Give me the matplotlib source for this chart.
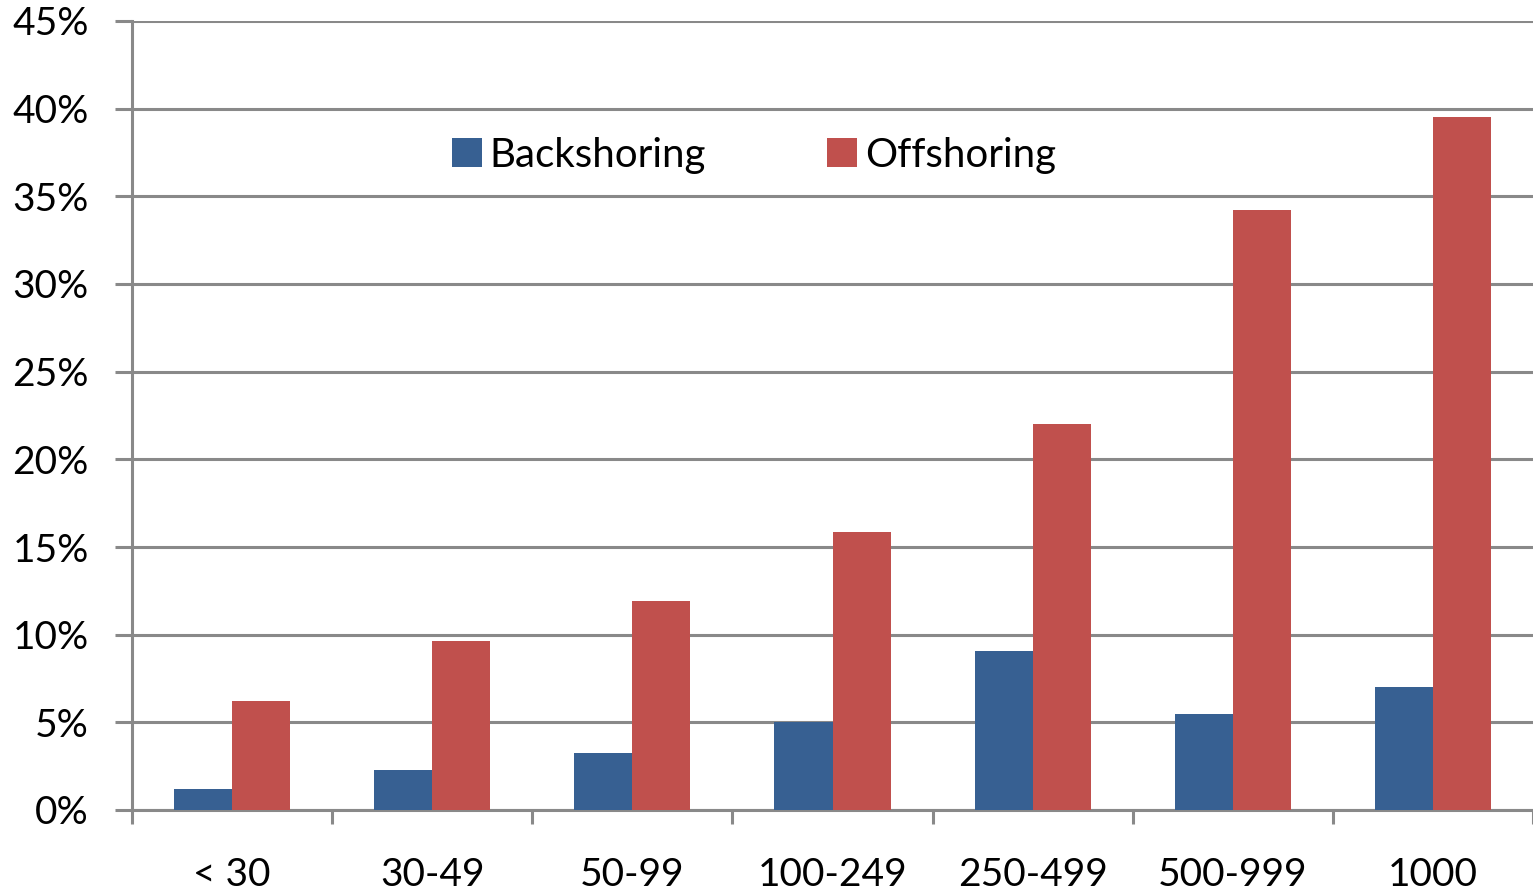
import matplotlib
matplotlib.use("Agg")
import matplotlib.pyplot as plt
import numpy as np
from matplotlib.ticker import FuncFormatter

categories = ["< 30", "30-49", "50-99", "100-249", "250-499", "500-999", "1000"]
backshoring = [1.2, 2.3, 3.25, 5.0, 9.05, 5.5, 7.0]
offshoring = [6.2, 9.65, 11.9, 15.85, 22.0, 34.2, 39.5]

blue = "#376092"
red = "#C0504D"
grid_gray = "#898989"

plt.rcParams["font.family"] = ["Lato", "DejaVu Sans"]

fig = plt.figure(figsize=(15.33, 8.91), dpi=100)
ax = fig.add_axes([132 / 1533, 81 / 891, 1 - 132 / 1533, (810 - 21) / 891])

x = np.arange(len(categories))
w = 0.29
ax.bar(x - w / 2, backshoring, width=w, color=blue, label="Backshoring", zorder=3)
ax.bar(x + w / 2, offshoring, width=w, color=red, label="Offshoring", zorder=3)

ax.set_xlim(-0.5, len(categories) - 0.5)
ax.set_ylim(0, 45)
ax.set_yticks(np.arange(0, 46, 5))
ax.yaxis.set_major_formatter(FuncFormatter(lambda v, p: f"{v:.0f}%"))
ax.grid(axis="y", color=grid_gray, linewidth=2.2, zorder=0)
ax.set_axisbelow(True)

for s in ["top", "right"]:
    ax.spines[s].set_visible(False)
for s in ["left", "bottom"]:
    ax.spines[s].set_color(grid_gray)
    ax.spines[s].set_linewidth(2.2)

# category boundaries as x tick marks, labels centred under groups
ax.set_xticks(np.arange(-0.5, len(categories) + 0.5, 1))
ax.set_xticklabels([])
ax.set_xticks(x, minor=True)
ax.set_xticklabels(categories, minor=True)
ax.tick_params(axis="x", which="major", length=10, width=2.2, color=grid_gray)
ax.tick_params(axis="x", which="minor", length=0, pad=34, labelsize=28)
ax.tick_params(axis="y", length=12, width=2.2, color=grid_gray, labelsize=28, pad=19)

ax.legend(loc="center", bbox_to_anchor=(754 / 1533, 1 - 155 / 891),
          bbox_transform=fig.transFigure, ncol=2, frameon=False,
          fontsize=29, columnspacing=3.0, handlelength=0.75, handleheight=0.75,
          handletextpad=0.2)

fig.savefig("out.png", dpi=100)
